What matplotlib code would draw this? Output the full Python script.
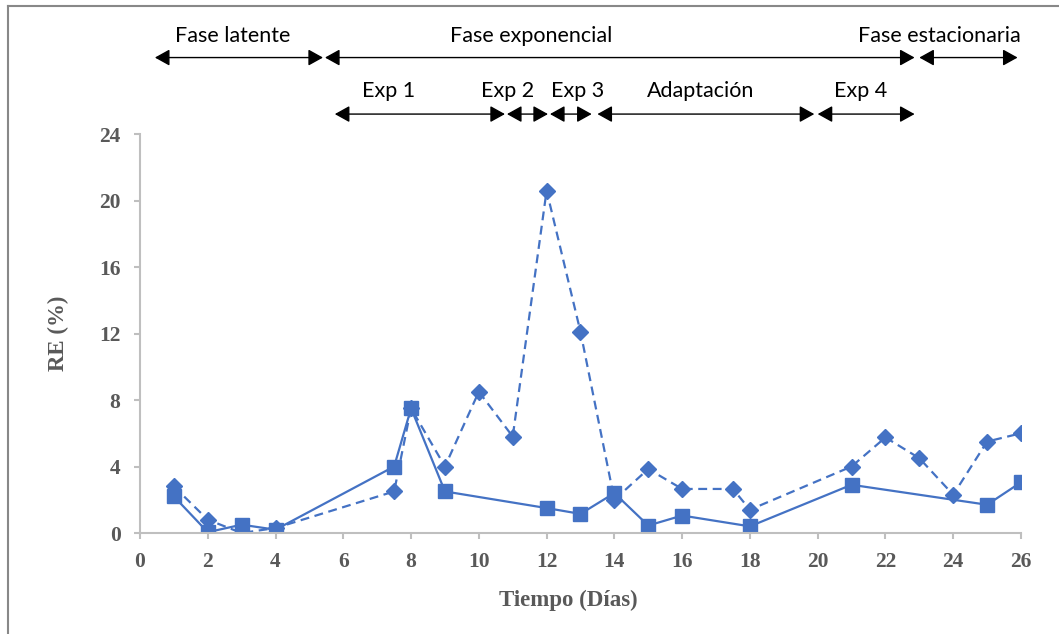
import matplotlib.pyplot as plt
from matplotlib.lines import Line2D

# datos
dias_a = [1, 2, 3, 4, 7.5, 8, 9, 12, 13, 14, 15, 16, 18, 21, 25, 26]
re_a = [2.2, 0.05, 0.5, 0.2, 4.0, 7.5, 2.5, 1.5, 1.15, 2.4, 0.45, 1.05, 0.4, 2.9, 1.7, 3.05]

dias_b = [1, 2, 3, 4, 7.5, 8, 9, 10, 11, 12, 13, 14, 15, 16, 17.5, 18, 21, 22, 23, 24, 25, 26]
re_b = [2.8, 0.8, 0.0, 0.3, 2.5, 7.5, 4.0, 8.5, 5.8, 20.6, 12.1, 2.0, 3.85, 2.65, 2.65, 1.4,
        4.0, 5.75, 4.5, 2.3, 5.5, 6.0]

# fases (inicio, fin) en dias
fases = ["Fase latente", "Fase exponencial", "Fase estacionaria"]
fases_ini = [0.44, 5.46, 23.0]
fases_fin = [5.4, 22.86, 25.9]
fases_txt_x = [2.75, 11.55, 23.6]

etapas = ["Exp 1", "Exp 2", "Exp 3", "Adaptación", "Exp 4"]
etapas_ini = [5.75, 10.83, 12.1, 13.5, 20.0]
etapas_fin = [10.77, 12.04, 13.33, 19.9, 22.86]
etapas_txt_x = [7.35, 10.86, 12.92, 16.55, 21.27]

azul = "#4472C4"
gris = "#595959"
eje = "#BFBFBF"

fig = plt.figure(figsize=(10.59, 6.34), dpi=100)
ax = fig.add_axes([0.1322, 0.1593, 0.8319, 0.6293])

ax.plot(dias_b, re_b, color=azul, lw=1.6, ls=(0, (4, 2.5)), marker="D", markersize=8)
ax.plot(dias_a, re_a, color=azul, lw=1.6, marker="s", markersize=10)

ax.set_xlim(0, 26)
ax.set_ylim(0, 24)
ax.set_xticks(range(0, 27, 2))
ax.set_yticks(range(0, 25, 4))
for s in ["top", "right"]:
    ax.spines[s].set_visible(False)
for s in ["left", "bottom"]:
    ax.spines[s].set_color(eje)
    ax.spines[s].set_linewidth(1.5)
ax.tick_params(colors=eje, width=1.5, length=4, pad=10, labelcolor=gris)
for lab in ax.get_xticklabels() + ax.get_yticklabels():
    lab.set_fontfamily("Liberation Serif")
    lab.set_fontweight("bold")
    lab.set_fontsize(15.5)

ax.set_xlabel("Tiempo (Días)", family="Liberation Serif", fontweight="bold",
              fontsize=16.5, color=gris)
ax.set_ylabel("RE (%)", family="Liberation Serif", fontweight="bold",
              fontsize=16.5, color=gris)
ax.xaxis.set_label_coords(0.486, -0.143)
ax.yaxis.set_label_coords(-0.081, 0.5)

# flechas de fases
def flecha(x0, x1, y):
    ax.annotate("", xy=(x1, y), xytext=(x0, y), annotation_clip=False,
                arrowprops=dict(arrowstyle="<|-|>,head_length=0.9,head_width=0.5",
                                color="black", lw=1.0, shrinkA=0, shrinkB=0,
                                mutation_scale=10))

for nom, a, b, tx in zip(fases, fases_ini, fases_fin, fases_txt_x):
    flecha(a, b, 28.6)
    ax.text(tx, 29.9, nom, ha="center", va="center", family="Lato", fontsize=15.5,
            clip_on=False)

for nom, a, b, tx in zip(etapas, etapas_ini, etapas_fin, etapas_txt_x):
    flecha(a, b, 25.2)
    ax.text(tx, 26.6, nom, ha="center", va="center", family="Lato", fontsize=15.5,
            clip_on=False)

# marco de la figura
fig.add_artist(Line2D([8 / 1059, 1], [1 - 6 / 634, 1 - 6 / 634], color="#888888", lw=1.5))
fig.add_artist(Line2D([8 / 1059, 8 / 1059], [0, 1 - 6 / 634], color="#888888", lw=1.5))

fig.savefig("out.png", dpi=100)
